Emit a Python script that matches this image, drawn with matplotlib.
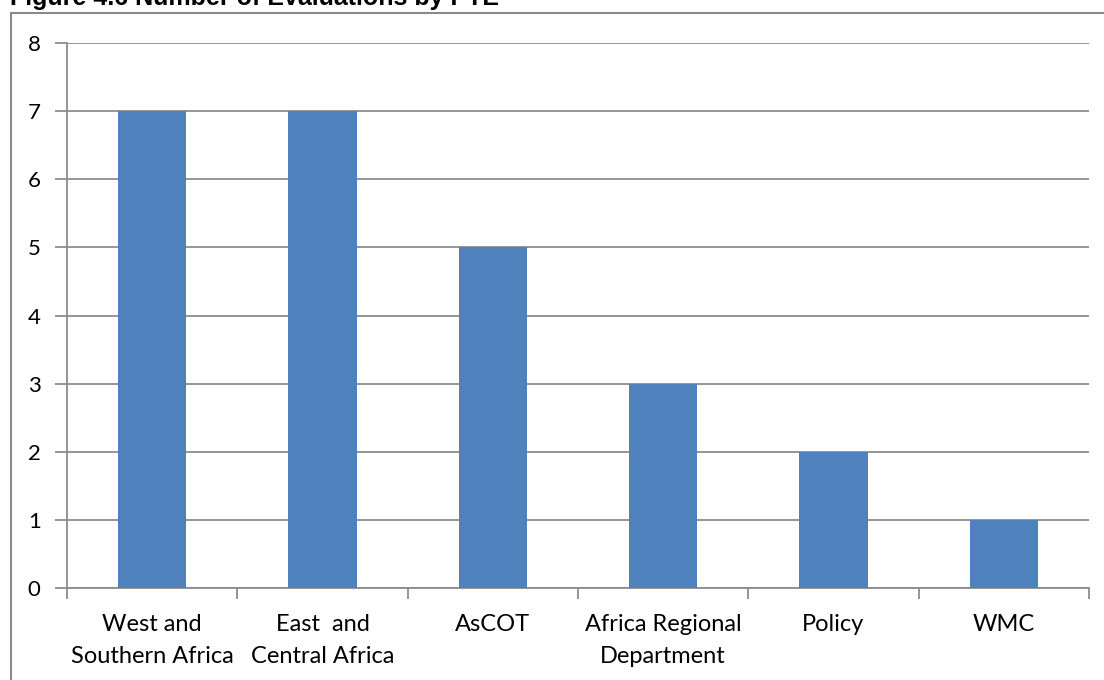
#!/usr/bin/env python3
"""Number of evaluations by PTE - simple column chart."""
import matplotlib
matplotlib.use('Agg')
import matplotlib.pyplot as plt
from matplotlib.patches import Rectangle

CATEGORIES = ['West and\nSouthern Africa', 'East  and\nCentral Africa', 'AsCOT',
              'Africa Regional\nDepartment', 'Policy', 'WMC']
EVALUATIONS = [7, 7, 5, 3, 2, 1]
Y_TICKS = [0, 1, 2, 3, 4, 5, 6, 7, 8]

TITLE = 'Figure 4.6 Number of Evaluations by PTE'
BAR_COLOR = '#4F81BD'
GRID_COLOR = '#8C8C8C'
W, H = 1104, 680


def main():
    fig = plt.figure(figsize=(W / 100, H / 100), dpi=100)
    fig.patch.set_facecolor('white')

    # title sits partly above the top edge of the page
    fig.text(10 / W, 1 - 5 / H, TITLE, fontsize=18, fontweight='bold',
             family='Liberation Sans', ha='left', va='baseline')

    # chart frame (runs off the right and bottom edges)
    fig.patches.append(Rectangle((11 / W, -0.05), 1.2, 1 - 13 / H + 0.05,
                                 transform=fig.transFigure, fill=False,
                                 edgecolor='#8A8A8A', linewidth=1.5))

    ax = fig.add_axes([67 / W, 1 - 588 / H, (1089 - 67) / W, (588 - 43) / H])
    x = list(range(len(CATEGORIES)))
    ax.bar(x, EVALUATIONS, width=0.4, color=BAR_COLOR, zorder=3)

    ax.set_xlim(-0.5, len(CATEGORIES) - 0.5)
    ax.set_ylim(0, 8)
    ax.set_yticks(Y_TICKS)
    ax.yaxis.grid(True, color=GRID_COLOR, linewidth=1.3, zorder=0)
    ax.set_axisbelow(True)

    ax.set_xticks(x)
    ax.set_xticklabels(CATEGORIES)
    ax.set_xticks([i - 0.5 for i in range(len(CATEGORIES) + 1)], minor=True)
    ax.tick_params(axis='x', which='major', length=0, pad=19)
    ax.tick_params(axis='x', which='minor', length=8, width=1.3, color=GRID_COLOR)
    ax.tick_params(axis='y', length=9, width=1.3, color=GRID_COLOR, pad=10)

    for lab in ax.get_xticklabels():
        lab.set_family('Lato')
        lab.set_fontsize(17)
        lab.set_linespacing(1.6)
    for lab in ax.get_yticklabels():
        lab.set_family('Lato')
        lab.set_fontsize(16)

    for side in ('top', 'right'):
        ax.spines[side].set_visible(False)
    for side in ('left', 'bottom'):
        ax.spines[side].set_color(GRID_COLOR)
        ax.spines[side].set_linewidth(1.3)

    fig.savefig('out.png', dpi=100)


if __name__ == '__main__':
    main()
